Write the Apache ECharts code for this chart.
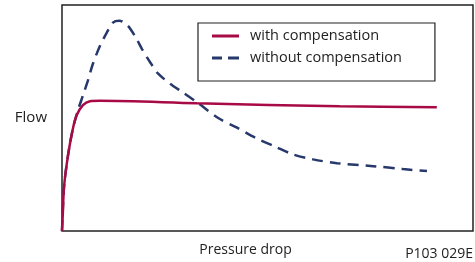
<!DOCTYPE html>
<html>
<head>
<meta charset="utf-8">
<script src="https://cdn.jsdelivr.net/npm/echarts@6/dist/echarts.min.js"></script>
<style>
  html, body { margin: 0; padding: 0; background: #fff; }
  #chart { width: 475px; height: 262px; }
</style>
</head>
<body>
<div id="chart"></div>
<script>
// curves, x = pressure drop (0..100), y = flow (0..100)
var withComp = [
  [0, 0], [0.2, 7.8], [0.5, 19.6], [1.5, 33.9], [2.7, 45.7], [3.6, 51.3],
  [5.1, 55.7], [6.8, 57.4], [9.2, 57.6], [32.8, 56.5], [67.6, 55.2], [91.2, 54.8]
];
var withoutComp = [
  [0, 0], [0.5, 19.6], [1.5, 33.9], [2.7, 45.7], [3.9, 53.5], [5.1, 60],
  [6.3, 66.5], [7.5, 73.9], [9.2, 81.7], [10.9, 87.8], [12.4, 92.2],
  [13.9, 93.0], [15.8, 91.3], [17.8, 86.1], [19.5, 80.4], [21.4, 74.8],
  [23.4, 69.6], [26.3, 65.2], [29.4, 61.3], [32.8, 57],
  [38, 50], [42.6, 45.7], [47, 41.3], [51.8, 37.4], [56.2, 33.9],
  [61.1, 31.7], [66.9, 30], [75.7, 28.7], [83, 27.4], [88.8, 26.5]
];
var seriesNames = ["with compensation", "without compensation"];
var axisNames = { x: "Pressure drop", y: "Flow" };
var figCode = "P103 029E";

var red = "#a80a45";
var navy = "#27386b";
var font = "Open Sans";

var chart = echarts.init(document.getElementById("chart"));
chart.setOption({
  animation: false,
  textStyle: { fontFamily: font },
  grid: {
    left: 62, top: 5, right: 2, bottom: 27,
    show: true, borderColor: "#222", borderWidth: 1.5
  },
  legend: {
    orient: "vertical",
    left: 198, top: 23,
    padding: [5, 33, 15, 14],
    itemGap: 6,
    itemWidth: 27, itemHeight: 3,
    borderColor: "#222", borderWidth: 1.2,
    textStyle: {
      fontSize: 14.5, color: "#222", fontFamily: font,
      lineHeight: 16, padding: [0, 0, 0, 6]
    },
    data: [
      { name: seriesNames[0], icon: "path://M0,0h27v3h-27z" },
      { name: seriesNames[1], icon: "path://M0,0h10v3h-10zM16,0h11v3h-11z" }
    ]
  },
  xAxis: {
    type: "value", min: 0, max: 100,
    name: axisNames.x, nameLocation: "middle", nameGap: 12,
    nameTextStyle: { fontSize: 14, color: "#222", padding: [0, 44, 0, 0] },
    axisLine: { show: false }, axisTick: { show: false },
    axisLabel: { show: false }, splitLine: { show: false }
  },
  yAxis: {
    type: "value", min: 0, max: 100,
    name: axisNames.y, nameLocation: "middle", nameGap: 15, nameRotate: 0,
    nameTextStyle: { fontSize: 15, color: "#222", align: "right" },
    axisLine: { show: false }, axisTick: { show: false },
    axisLabel: { show: false }, splitLine: { show: false }
  },
  graphic: [{
    type: "text", right: 2, bottom: 1,
    style: { text: figCode, font: "14px " + font, fill: "#222" }
  }],
  series: [
    {
      name: seriesNames[0], type: "line", data: withComp,
      smooth: 0.3, showSymbol: false, symbol: "none",
      lineStyle: { color: red, width: 2.5 },
      itemStyle: { color: red }, z: 3
    },
    {
      name: seriesNames[1], type: "line", data: withoutComp,
      smooth: 0.3, showSymbol: false, symbol: "none",
      lineStyle: { color: navy, width: 2.5, type: [11, 7] },
      itemStyle: { color: navy }, z: 2
    }
  ]
});
</script>
</body>
</html>
